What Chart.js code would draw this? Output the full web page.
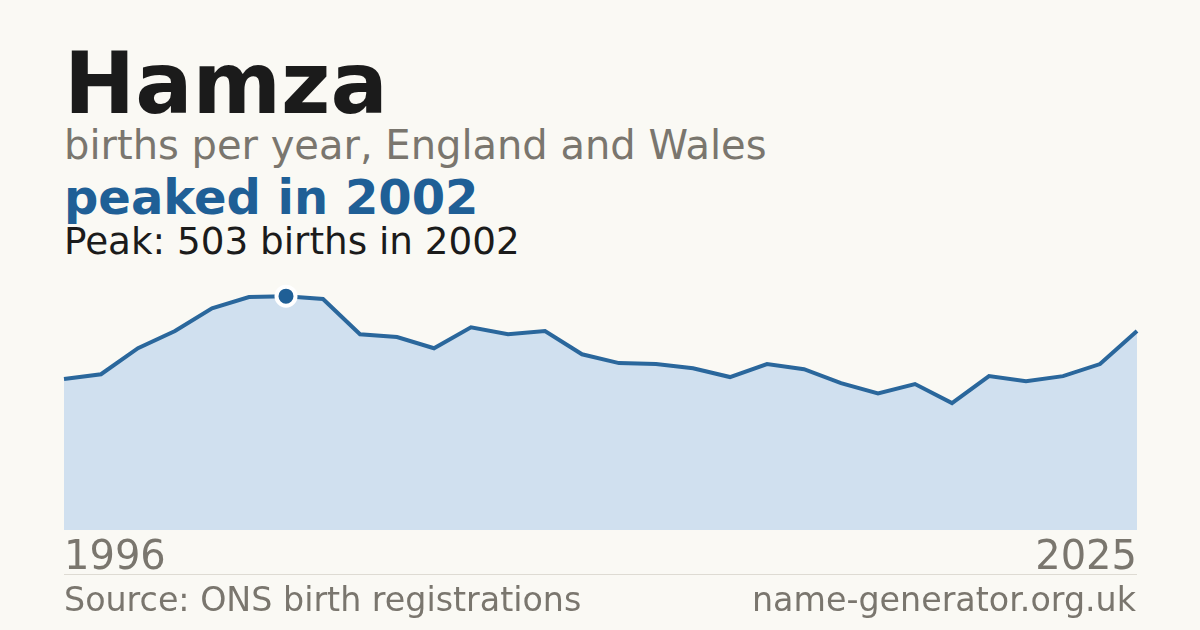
<!DOCTYPE html>
<html>
<head>
<meta charset="utf-8">
<script src="https://cdn.jsdelivr.net/npm/chart.js@4.4.1/dist/chart.umd.min.js"></script>
<style>
    html, body {
        margin: 0;
        padding: 0;
        width: 1200px;
        height: 630px;
        background: #faf9f4;
        overflow: hidden;
        font-family: 'DejaVu Sans', sans-serif;
    }
    .txt {
        position: absolute;
        left: 64px;
        white-space: nowrap;
    }
    #title { top: 41px; font-size: 85px; line-height: 85px; font-weight: bold; color: #1b1b1b; }
    #subtitle { top: 125px; font-size: 40px; line-height: 40px; color: #7a766e; }
    #headline { top: 173px; font-size: 48px; line-height: 48px; font-weight: bold; color: #1f5f96; }
    #peakText { top: 223px; font-size: 37.3px; line-height: 37px; color: #1b1b1b; }
    #source { top: 583px; font-size: 33.3px; line-height: 33px; color: #7a766e; }
    #site { top: 583px; left: auto; right: 64px; font-size: 33.3px; line-height: 33px; color: #7a766e; }
    #divider {
        position: absolute;
        left: 64px;
        top: 574px;
        width: 1073px;
        height: 1px;
        background: #dedbd3;
    }
    #chartBox {
        position: absolute;
        left: 54px;
        top: 275px;
    }
</style>
</head>
<body>
<div id="title" class="txt">Hamza</div>
<div id="subtitle" class="txt">births per year, England and Wales</div>
<div id="headline" class="txt">peaked in 2002</div>
<div id="peakText" class="txt">Peak: 503 births in 2002</div>
<div id="divider"></div>
<div id="chartBox"><canvas id="nameChart" width="1093" height="313"></canvas></div>
<div id="source" class="txt">Source: ONS birth registrations</div>
<div id="site" class="txt">name-generator.org.uk</div>

<script>
// Data
const years = [1996, 1997, 1998, 1999, 2000, 2001, 2002, 2003, 2004, 2005,
    2006, 2007, 2008, 2009, 2010, 2011, 2012, 2013, 2014, 2015,
    2016, 2017, 2018, 2019, 2020, 2021, 2022, 2023, 2024, 2025];
const births = [325, 335, 391, 428, 477, 501, 503, 497, 421, 415,
    391, 436, 421, 428, 378, 359, 357, 348, 329, 357,
    346, 316, 294, 314, 273, 331, 320, 331, 357, 428];
const peakYear = 2002;
const yMax = 527;

const peakIndex = years.indexOf(peakYear);

const lineBlue = '#2a679c';
const fillBlue = '#d0e0ef';
const greyText = '#7a766e';

function initChart() {
    new Chart(document.getElementById('nameChart'), {
        type: 'line',
        data: {
            labels: years.map(String),
            datasets: [{
                data: births,
                borderColor: lineBlue,
                borderWidth: 4,
                backgroundColor: fillBlue,
                fill: 'origin',
                tension: 0,
                clip: false,
                pointRadius: births.map((v, i) => i === peakIndex ? 9.5 : 0),
                pointBorderWidth: 4,
                pointBorderColor: '#ffffff',
                pointBackgroundColor: '#1f5f96',
                pointHoverRadius: 0
            }]
        },
        options: {
            responsive: false,
            animation: false,
            layout: { padding: { left: 10, right: 10, top: 10, bottom: 0 } },
            plugins: {
                legend: { display: false },
                tooltip: { enabled: false }
            },
            scales: {
                x: {
                    offset: false,
                    grid: { display: false, drawTicks: false },
                    border: { display: false },
                    ticks: {
                        autoSkip: false,
                        maxRotation: 0,
                        align: 'inner',
                        padding: 5,
                        color: greyText,
                        font: { family: 'DejaVu Sans', size: 40 },
                        callback: function(value, index) {
                            if (index === 0 || index === years.length - 1) {
                                return String(years[index]);
                            }
                            return '';
                        }
                    }
                },
                y: {
                    display: false,
                    min: 0,
                    max: yMax
                }
            }
        }
    });
}

initChart();
</script>
</body>
</html>
